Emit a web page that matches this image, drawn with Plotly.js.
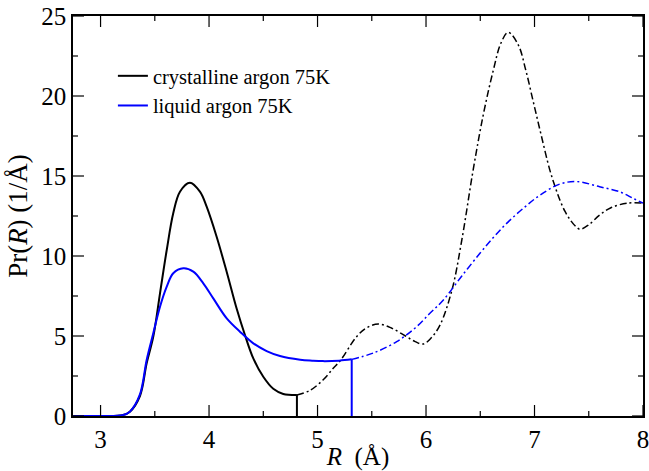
<!DOCTYPE html>
<html>
<head>
<meta charset="utf-8">
<script src="https://cdn.plot.ly/plotly-3.0.1.min.js"></script>
<style>html,body{margin:0;padding:0;background:#fff;}#chart{width:649px;height:471px;}</style>
</head>
<body>
<div id="chart"></div>
<script>
// crystalline argon 75K, solid part
var crystX = [2.75, 3.0, 3.2, 3.27, 3.363, 3.425, 3.486, 3.548, 3.61, 3.67, 3.732, 3.824, 3.916, 3.978, 4.07, 4.163, 4.255, 4.331, 4.408, 4.5, 4.592, 4.684, 4.81];
var crystY = [0, 0, 0.05, 0.27, 1.25, 3.29, 4.96, 7.67, 10.375, 12.67, 14.02, 14.58, 14.02, 13.08, 11.2, 9.0, 6.7, 5.06, 3.6, 2.45, 1.7, 1.38, 1.31];
// crystalline argon 75K, dash-dot continuation
var crystX2 = [4.81, 4.93, 5.05, 5.145, 5.21, 5.36, 5.45, 5.56, 5.68, 5.81, 5.9, 5.975, 6.05, 6.13, 6.24, 6.33, 6.435, 6.53, 6.62, 6.69, 6.758, 6.85, 6.92, 6.99, 7.06, 7.14, 7.19, 7.234, 7.28, 7.33, 7.38, 7.42, 7.5, 7.6, 7.7, 7.85, 8.0];
var crystY2 = [1.31, 1.6, 2.25, 2.98, 3.46, 4.96, 5.5, 5.75, 5.5, 5.0, 4.65, 4.5, 4.9, 5.7, 7.9, 11.0, 15.4, 18.9, 21.6, 23.3, 23.98, 23.2, 21.6, 19.6, 17.6, 15.4, 14.33, 13.5, 12.8, 12.25, 11.85, 11.67, 11.95, 12.56, 13.0, 13.3, 13.3];
// liquid argon 75K, solid part
var liqX = [2.75, 3.0, 3.2, 3.27, 3.363, 3.425, 3.486, 3.548, 3.61, 3.67, 3.763, 3.855, 3.947, 4.039, 4.163, 4.285, 4.408, 4.531, 4.654, 4.84, 4.95, 5.05, 5.2, 5.315];
var liqY = [0, 0, 0.05, 0.27, 1.35, 3.5, 5.17, 6.83, 8.08, 8.92, 9.23, 9.02, 8.29, 7.35, 6.1, 5.27, 4.54, 4.06, 3.75, 3.52, 3.46, 3.43, 3.46, 3.54];
// liquid argon 75K, dash-dot continuation
var liqX2 = [5.315, 5.52, 5.73, 5.9, 6.036, 6.16, 6.33, 6.497, 6.62, 6.743, 6.9, 7.05, 7.234, 7.39, 7.6, 7.79, 7.91, 8.0];
var liqY2 = [3.54, 3.95, 4.65, 5.5, 6.42, 7.25, 8.75, 10.17, 11.15, 12.04, 13.0, 13.8, 14.5, 14.65, 14.33, 14.0, 13.6, 13.3];

var names = ["crystalline argon 75K", "liquid argon 75K"];
var colors = ["#000000", "#0000ff"];
var xRange = [2.746, 8];
var yRange = [0, 25];
var xMajor = [3, 4, 5, 6, 7, 8];
var xMinor = [3.5, 4.5, 5.5, 6.5, 7.5];
var yMajor = [0, 5, 10, 15, 20, 25];
var yMinor = [2.5, 7.5, 12.5, 17.5, 22.5];

var dd = "7px,3px,2px,3px";
var traces = [
  {x: crystX, y: crystY, mode: "lines", name: names[0], line: {color: colors[0], width: 2, shape: "spline", smoothing: 1}},
  {x: [crystX[crystX.length-1], crystX[crystX.length-1]], y: [crystY[crystY.length-1], 0], mode: "lines", showlegend: false, line: {color: colors[0], width: 2}},
  {x: crystX2, y: crystY2, mode: "lines", showlegend: false, line: {color: colors[0], width: 1.5, dash: dd, shape: "spline", smoothing: 1}},
  {x: liqX, y: liqY, mode: "lines", name: names[1], line: {color: colors[1], width: 2, shape: "spline", smoothing: 1}},
  {x: [liqX[liqX.length-1], liqX[liqX.length-1]], y: [liqY[liqY.length-1], 0], mode: "lines", showlegend: false, line: {color: colors[1], width: 2}},
  {x: liqX2, y: liqY2, mode: "lines", showlegend: false, line: {color: colors[1], width: 1.5, dash: dd, shape: "spline", smoothing: 1}}
];

// inside tick marks on all four sides, placed at the tick values through the axes and clipped to the plot area
var MAJ = 15.7, MIN = 7.2;
function tickTrace(xs, ys, symbol, size) {
  return {x: xs, y: ys, mode: "markers", showlegend: false, hoverinfo: "skip", cliponaxis: true,
    marker: {symbol: symbol, size: size, color: "#000", line: {width: 1.2, color: "#000"}}};
}
function fill(arr, v) { return arr.map(function () { return v; }); }
[yRange[0], yRange[1]].forEach(function (yv) {
  traces.push(tickTrace(xMajor, fill(xMajor, yv), "line-ns-open", MAJ));
  traces.push(tickTrace(xMinor, fill(xMinor, yv), "line-ns-open", MIN));
});
[xRange[0], xRange[1]].forEach(function (xv) {
  traces.push(tickTrace(fill(yMajor, xv), yMajor, "line-ew-open", MAJ));
  traces.push(tickTrace(fill(yMinor, xv), yMinor, "line-ew-open", MIN));
});

var font = "Liberation Serif, Times New Roman, serif";
var layout = {
  width: 649, height: 471,
  margin: {l: 73, r: 6, t: 16, b: 55},
  paper_bgcolor: "#fff", plot_bgcolor: "#fff",
  font: {family: font, size: 24, color: "#000"},
  showlegend: true,
  legend: {x: 0.07, y: 0.9, xanchor: "left", yanchor: "top", bgcolor: "rgba(0,0,0,0)", font: {family: font, size: 20.5, color: "#000"}, tracegroupgap: 0},
  xaxis: {
    range: xRange, tickmode: "array", tickvals: xMajor, ticktext: xMajor.map(String), ticks: "",
    showline: true, linecolor: "#000", linewidth: 1.5, mirror: true,
    showgrid: false, zeroline: false, ticklabeloverflow: "allow",
    tickfont: {family: font, size: 25, color: "#000"},
    title: {text: "<i>R</i>  (Å)", font: {family: font, size: 25, color: "#000"}, standoff: 4}
  },
  yaxis: {
    range: yRange, tickmode: "array", tickvals: yMajor, ticktext: yMajor.map(String), ticks: "",
    showline: true, linecolor: "#000", linewidth: 1.5, mirror: true,
    showgrid: false, zeroline: false,
    tickfont: {family: font, size: 25, color: "#000"},
    title: {text: "Pr(<i>R</i>) (1/Å)", font: {family: font, size: 27, color: "#000"}, standoff: 6}
  }
};
Plotly.newPlot("chart", traces, layout, {displayModeBar: false});
</script>
</body>
</html>
